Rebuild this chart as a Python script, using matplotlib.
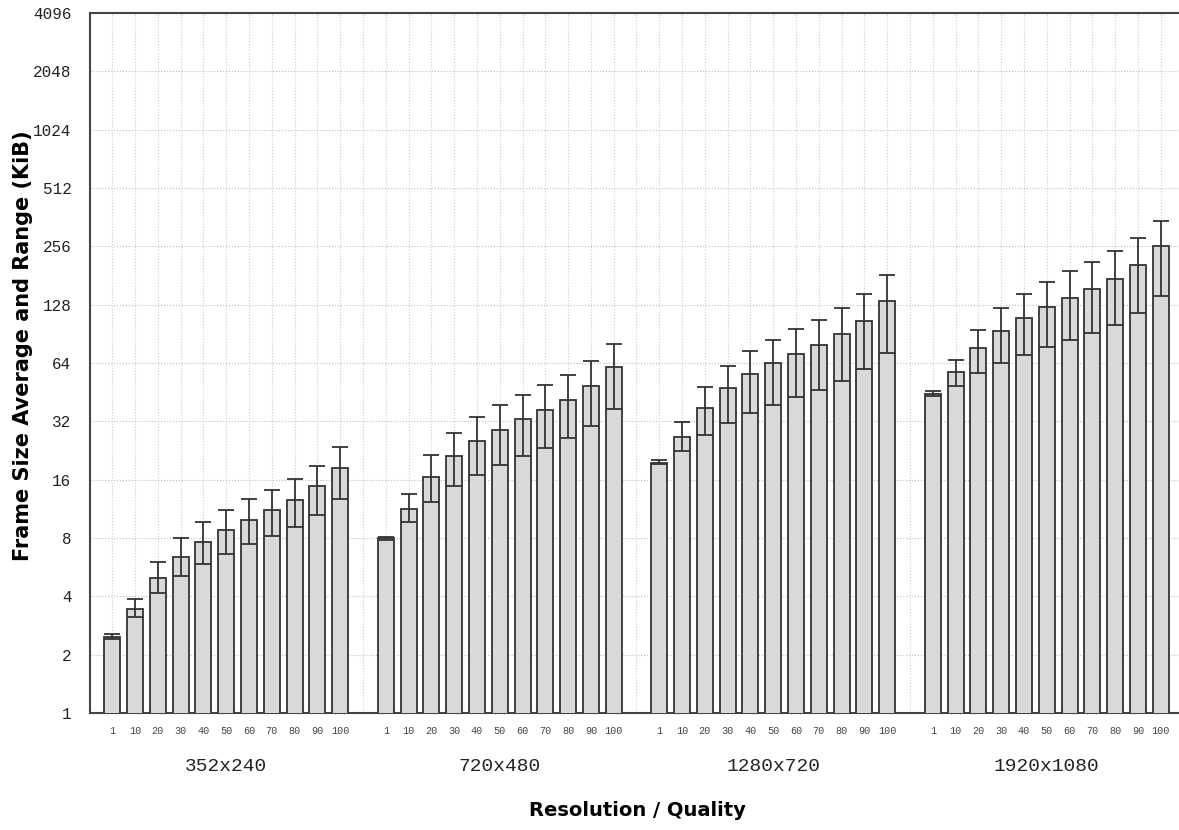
import matplotlib.pyplot as plt
from matplotlib.ticker import FixedLocator, NullFormatter

resolutions = ['352x240', '720x480', '1280x720', '1920x1080']
qualities = ['1', '10', '20', '30', '40', '50', '60', '70', '80', '90', '100']

# frame size in KiB
avg_352 = [2.48, 3.45, 5.0, 6.4, 7.6, 8.8, 9.9, 11.1, 12.6, 14.8, 18.3]
min_352 = [2.42, 3.12, 4.18, 5.07, 5.9, 6.64, 7.42, 8.16, 9.12, 10.5, 12.7]
max_352 = [2.55, 3.86, 6.04, 8.0, 9.64, 11.2, 12.7, 14.15, 16.2, 18.9, 23.5]

avg_720 = [7.97, 11.3, 16.6, 21.1, 25.2, 29.0, 32.8, 36.5, 41.4, 48.7, 60.8]
min_720 = [7.81, 9.67, 12.3, 14.8, 17.0, 19.0, 21.2, 23.3, 26.2, 30.2, 37.1]
max_720 = [8.1, 13.5, 21.4, 27.9, 33.8, 38.9, 43.9, 49.1, 55.7, 65.6, 80.2]

avg_1280 = [19.6, 26.7, 37.5, 47.4, 55.9, 63.7, 71.5, 79.6, 90.3, 106, 133]
min_1280 = [19.3, 22.4, 27.1, 31.3, 35.2, 39.0, 42.7, 46.4, 51.5, 59.4, 72.4]
max_1280 = [20.2, 31.6, 48.1, 61.8, 74.1, 84.4, 96.3, 107, 123, 145, 182]

avg_1920 = [44.3, 57.5, 76.5, 93.6, 109, 124, 138, 154, 174, 205, 258]
min_1920 = [43.2, 48.5, 56.6, 63.7, 70.7, 77.7, 84.1, 91.4, 101, 116, 142]
max_1920 = [45.7, 66.3, 94.8, 123, 146, 168, 191, 213, 241, 282, 347]

yticks = [1, 2, 4, 8, 16, 32, 64, 128, 256, 512, 1024, 2048, 4096]

groups = [
    (avg_352, min_352, max_352),
    (avg_720, min_720, max_720),
    (avg_1280, min_1280, max_1280),
    (avg_1920, min_1920, max_1920),
]

MONO = 'Liberation Mono'
SANS = 'DejaVu Sans'
EDGE = '#333333'

fig = plt.figure(figsize=(11.79, 8.30), dpi=100)
W, H = 1179, 830
ax = fig.add_axes([89.5 / W, 117 / H, (1183.5 - 89.5) / W, 700 / H])

step = len(qualities) + 1
xpos, xlabels = [], []
for g, (avg, lo, hi) in enumerate(groups):
    xs = [g * step + i for i in range(len(qualities))]
    yerr = [[a - l for a, l in zip(avg, lo)], [h - a for a, h in zip(avg, hi)]]
    ax.bar(xs, avg, width=0.7, color='#d9d9d9', edgecolor=EDGE, linewidth=1.3, zorder=3)
    ax.errorbar(xs, avg, yerr=yerr, fmt='none', ecolor=EDGE, elinewidth=1.3,
                capsize=5.6, capthick=1.3, zorder=4)
    xpos += xs
    xlabels += qualities
    # resolution name under each group
    ax.text(g * step + 5, -0.076, resolutions[g], transform=ax.get_xaxis_transform(),
            ha='center', va='center', fontsize=14, family=MONO, color='#222222')

ax.set_yscale('log', base=2)
ax.set_ylim(1, 4096)
ax.set_xlim(-1, len(groups) * step - 1)
ax.yaxis.set_major_locator(FixedLocator(yticks))
ax.yaxis.set_minor_locator(FixedLocator([]))
ax.set_yticklabels([str(t) for t in yticks], family=MONO, fontsize=11.5, color='#222222')

ax.set_xticks(xpos)
ax.set_xticklabels(xlabels, family=MONO, fontsize=7.3, color='#444444')
ax.xaxis.set_minor_locator(FixedLocator(range(-1, len(groups) * step)))
ax.xaxis.set_minor_formatter(NullFormatter())
ax.tick_params(axis='both', which='both', length=0)
ax.tick_params(axis='x', pad=9)
ax.tick_params(axis='y', pad=13)

# dotted grid: one horizontal line per power of two, one vertical line per slot
ax.grid(True, which='major', axis='y', linestyle=':', linewidth=0.8, color='#bbbbbb', zorder=0)
ax.grid(True, which='both', axis='x', linestyle=':', linewidth=0.8, color='#cccccc', zorder=0)

for side in ['left', 'bottom', 'top']:
    ax.spines[side].set_color('#444444')
    ax.spines[side].set_linewidth(1.5)
ax.spines['right'].set_visible(False)

ax.set_ylabel('Frame Size Average and Range (KiB)', family=SANS, fontweight='bold',
              fontsize=15)
ax.yaxis.set_label_coords(-0.052, 0.525)
fig.text(637 / W, 1 - 810 / H, 'Resolution / Quality', family=SANS, fontweight='bold',
         fontsize=14, ha='center', va='center')

plt.savefig('out.png', dpi=100)
plt.close()
